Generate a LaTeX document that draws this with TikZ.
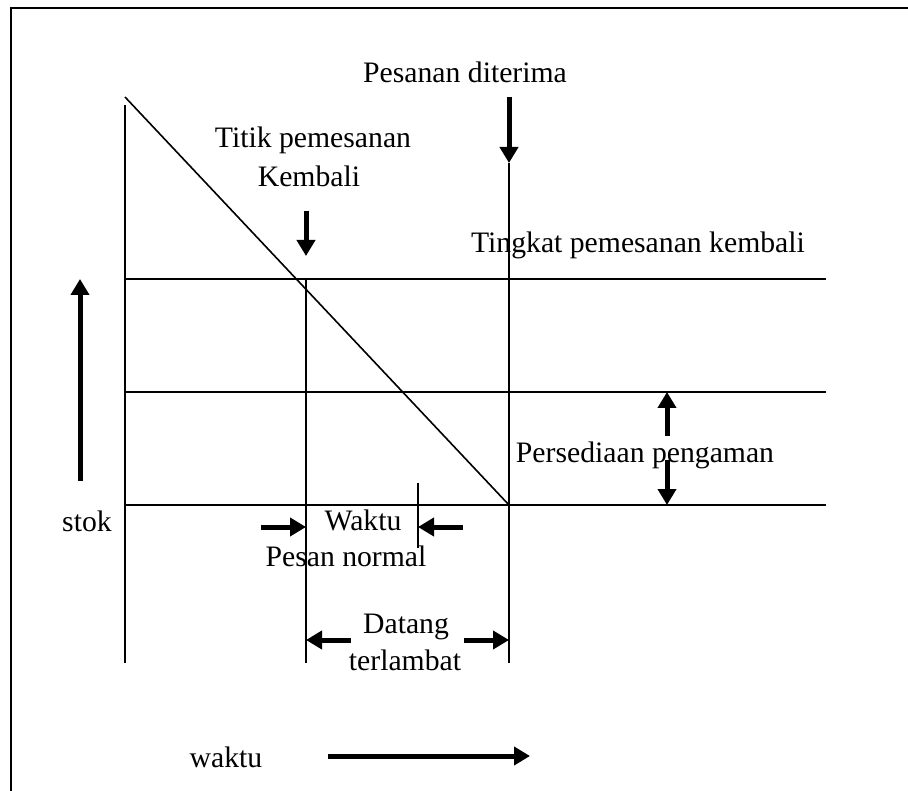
\documentclass[tikz,border=0pt]{standalone}
\usepackage{fontspec}
\setmainfont{Liberation Serif}
\usetikzlibrary{arrows.meta}
\tikzset{
  thin line/.style={line width=1.6pt, black},
  fat arrow/.style={line width=5pt, -{Triangle[length=16pt,width=18pt]}},
  lbl/.style={inner sep=0pt, font=\fontsize{29.7}{34}\selectfont}
}
\begin{document}
\begin{tikzpicture}[x=1pt,y=-1pt]
  \useasboundingbox (0,0) rectangle (908,791);
  \clip (0,0) rectangle (908,791);
  % outer frame (runs past the page on the right and bottom)
  \draw[line width=2.4pt] (11,8) rectangle (930,820);

  % key points
  \coordinate (axTop) at (125,105);
  \coordinate (axBot) at (125,663);
  \coordinate (dStart) at (125,97);
  \coordinate (dEnd) at (509,505);
  \coordinate (ropL) at (125,279);  \coordinate (ropR) at (826,279);
  \coordinate (ssL) at (125,392);   \coordinate (ssR) at (826,392);
  \coordinate (bsL) at (125,505);   \coordinate (bsR) at (826,505);
  \coordinate (v1Top) at (306,279); \coordinate (v1Bot) at (306,663);
  \coordinate (v2Top) at (509,163); \coordinate (v2Bot) at (509,663);
  \coordinate (v3Top) at (418,483); \coordinate (v3Bot) at (418,548);

  % stock axis, level lines and usage line
  \draw[thin line] (axTop) -- (axBot);
  \draw[thin line] (ropL) -- (ropR);
  \draw[thin line] (ssL) -- (ssR);
  \draw[thin line] (bsL) -- (bsR);
  \draw[thin line] (dStart) -- (dEnd);
  \draw[thin line] (v1Top) -- (v1Bot);
  \draw[thin line] (v2Top) -- (v2Bot);
  \draw[thin line] (v3Top) -- (v3Bot);

  % labels
  \node[lbl] (tDiterima) at (465,72) {Pesanan diterima};
  \node[lbl] (tTitik) at (313,140) {Titik pemesanan};
  \node[lbl] (tKembali) at (309,176) {Kembali};
  \node[lbl] (tTingkat) at (638,245) {Tingkat pemesanan kembali};
  \node[lbl] (tPengaman) at (645,455) {Persediaan pengaman};
  \node[lbl] (tStok) at (87,521) {stok};
  \node[lbl] (tWaktu) at (363,520) {Waktu};
  \node[lbl] (tNormal) at (346,556) {Pesan normal};
  \node[lbl] (tDatang) at (406,627) {Datang};
  \node[lbl] (tTerlambat) at (405,660) {terlambat};
  \node[lbl] (tWaktuX) at (226,757) {waktu};

  % arrow tails
  \coordinate (aDitS) at (509,97);
  \coordinate (aTitS) at (306,211);  \coordinate (aTitE) at (306,256);
  \coordinate (aStokS) at (80,481);  \coordinate (aStokE) at (80,279);
  \coordinate (aSsUpS) at (667,436); \coordinate (aSsUpE) at (667,392);
  \coordinate (aSsDnS) at (667,460); \coordinate (aSsDnE) at (667,505);
  \coordinate (aWkLS) at (261,527);  \coordinate (aWkLE) at (306,527);
  \coordinate (aWkRS) at (463,527);  \coordinate (aWkRE) at (418,527);
  \coordinate (aDtLS) at (351,640);  \coordinate (aDtLE) at (306,640);
  \coordinate (aDtRS) at (464,640);  \coordinate (aDtRE) at (509,640);
  \coordinate (aTimeS) at (328,756); \coordinate (aTimeE) at (530,756);

  % heavy arrows
  \draw[fat arrow] (aDitS) -- (v2Top);
  \draw[fat arrow] (aTitS) -- (aTitE);
  \draw[fat arrow] (aStokS) -- (aStokE);
  \draw[fat arrow] (aSsUpS) -- (aSsUpE);
  \draw[fat arrow] (aSsDnS) -- (aSsDnE);
  \draw[fat arrow] (aWkLS) -- (aWkLE);
  \draw[fat arrow] (aWkRS) -- (aWkRE);
  \draw[fat arrow] (aDtLS) -- (aDtLE);
  \draw[fat arrow] (aDtRS) -- (aDtRE);
  \draw[fat arrow] (aTimeS) -- (aTimeE);
\end{tikzpicture}
\end{document}
